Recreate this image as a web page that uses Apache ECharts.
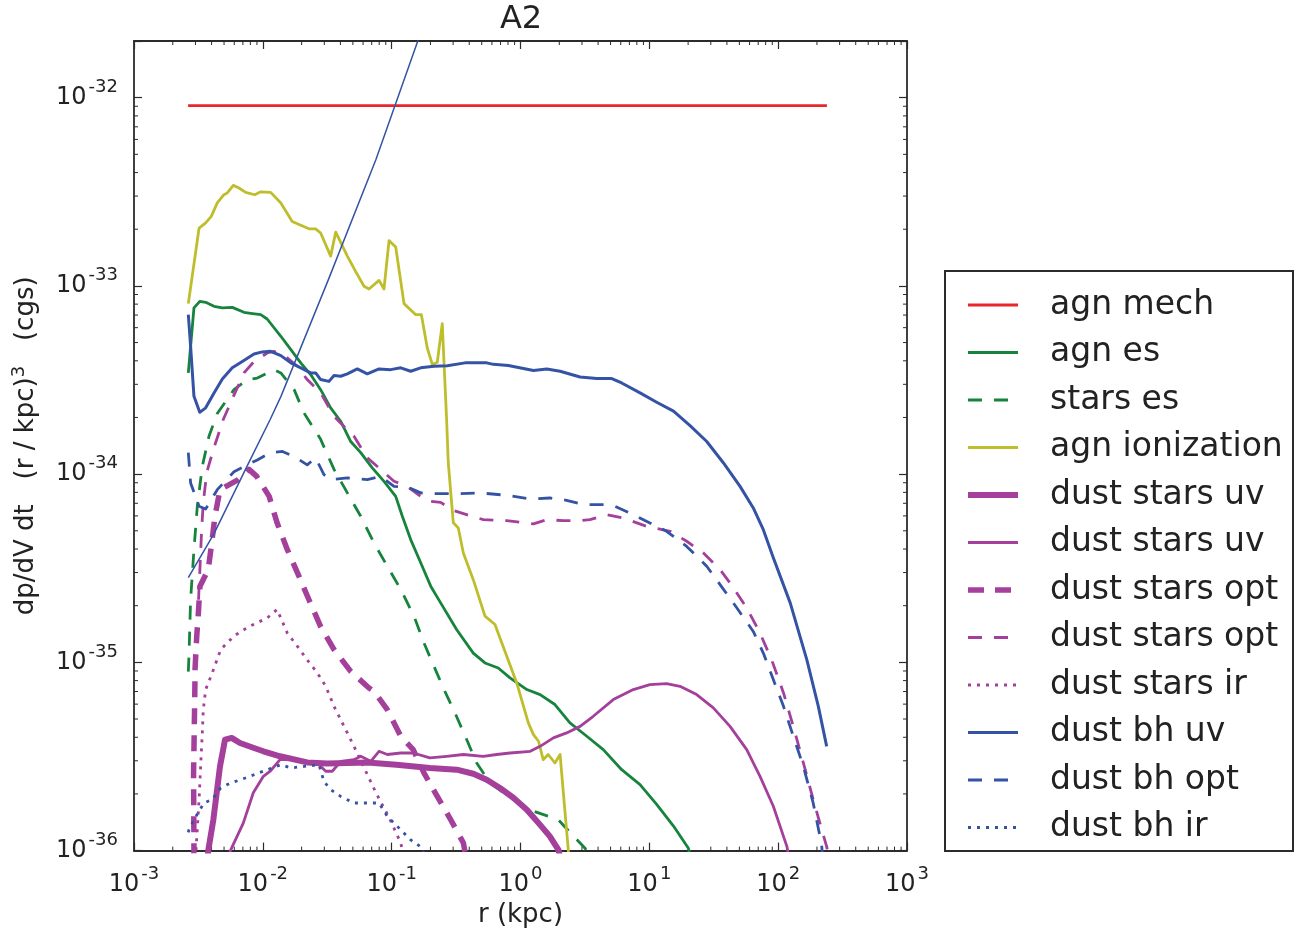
<!DOCTYPE html>
<html>
<head>
<meta charset="utf-8">
<script src="https://cdn.jsdelivr.net/npm/echarts@6/dist/echarts.min.js"></script>
<style>
html,body{margin:0;padding:0;background:#fff;}
#chart{width:1307px;height:933px;}
</style>
</head>
<body>
<div id="chart"></div>
<script>
// ---------- data: [r (kpc), dp/dV dt (r/kpc)^3 (cgs)] ----------
const agnMech = [[2.63e-3,9.08e-33],[239,9.08e-33]];
const agnEs = [[2.64e-3,3.45e-34],[2.92e-3,7.64e-34],[3.24e-3,8.28e-34],[3.60e-3,8.18e-34],[4.18e-3,7.79e-34],[4.85e-3,7.64e-34],[5.79e-3,7.69e-34],[7.14e-3,7.24e-34],[8.05e-3,7.15e-34],[9.63e-3,7.03e-34],[1.08e-2,6.67e-34],[1.38e-2,5.40e-34],[1.65e-2,4.59e-34],[1.97e-2,3.90e-34],[2.35e-2,3.38e-34],[2.81e-2,2.81e-34],[3.36e-2,2.25e-34],[4.02e-2,1.91e-34],[4.81e-2,1.49e-34],[5.75e-2,1.30e-34],[7.07e-2,1.08e-34],[8.72e-2,9.16e-35],[0.1075,7.62e-35],[0.121,5.97e-35],[0.1405,4.49e-35],[0.168,3.38e-35],[0.201,2.54e-35],[0.240,2.07e-35],[0.320,1.49e-35],[0.430,1.12e-35],[0.530,9.93e-36],[0.672,9.34e-36],[0.829,8.27e-36],[1.12,7.17e-36],[1.42,6.74e-36],[1.85,5.97e-36],[2.42,4.77e-36],[3.27,4.05e-36],[4.39,3.44e-36],[6.10,2.69e-36],[8.47,2.24e-36],[11.4,1.76e-36],[15.4,1.35e-36],[20.1,1.03e-36],[21,9e-37]];
const starsEs = [[2.64e-3,8.93e-36],[2.67e-3,1.08e-35],[2.75e-3,2.15e-35],[2.92e-3,3.97e-35],[3.10e-3,6.75e-35],[3.39e-3,1.10e-34],[3.82e-3,1.59e-34],[4.43e-3,2.10e-34],[5.97e-3,2.81e-34],[7.58e-3,3.18e-34],[9.06e-3,3.24e-34],[1.22e-2,3.59e-34],[1.38e-2,3.45e-34],[1.75e-2,2.81e-34],[2.09e-2,2.11e-34],[2.81e-2,1.53e-34],[3.57e-2,1.06e-34],[4.53e-2,7.95e-35],[5.75e-2,5.97e-35],[7.29e-2,4.31e-35],[9.25e-2,3.24e-35],[0.1176,2.44e-35],[0.149,1.76e-35],[0.178,1.27e-35],[0.213,9.53e-36],[0.255,7.17e-36],[0.310,5.39e-36],[0.382,3.89e-36],[0.457,2.92e-36],[0.580,2.29e-36],[0.829,1.91e-36],[1.26,1.62e-36],[1.96,1.46e-36],[2.65,1.17e-36],[3.17,1.03e-36],[3.5,9e-37]];
const agnIon = [[2.64e-3,8.05e-34],[3.20e-3,2.03e-33],[3.60e-3,2.16e-33],[3.98e-3,2.34e-33],[4.43e-3,2.76e-33],[4.93e-3,3.03e-33],[5.30e-3,3.12e-33],[5.90e-3,3.42e-33],[6.53e-3,3.31e-33],[7.36e-3,3.14e-33],[8.65e-3,3.05e-33],[9.63e-3,3.16e-33],[1.15e-2,3.14e-33],[1.38e-2,2.76e-33],[1.69e-2,2.20e-33],[2.28e-2,2.01e-33],[2.57e-2,2.01e-33],[2.81e-2,1.91e-33],[3.36e-2,1.44e-33],[3.68e-2,1.93e-33],[4.53e-2,1.44e-33],[5.26e-2,1.19e-33],[6.10e-2,9.95e-34],[6.67e-2,9.63e-34],[7.98e-2,1.07e-33],[8.72e-2,9.63e-34],[9.54e-2,1.74e-33],[0.1075,1.61e-33],[0.1247,8.05e-34],[0.1537,7.03e-34],[0.170,7.03e-34],[0.189,4.68e-34],[0.207,3.82e-34],[0.226,3.93e-34],[0.247,6.30e-34],[0.267,1.95e-34],[0.275,1.15e-34],[0.301,5.51e-35],[0.329,5.18e-35],[0.360,3.81e-35],[0.430,2.75e-35],[0.530,1.76e-35],[0.634,1.59e-35],[0.715,1.27e-35],[0.935,7.78e-36],[1.15,4.77e-36],[1.26,4.13e-36],[1.38,3.81e-36],[1.50,3.04e-36],[1.64,3.24e-36],[1.85,2.92e-36],[2.03,3.24e-36],[2.15,2.03e-36],[2.35,1.01e-36],[2.40,8e-37]];
const dustStarsUvThick = [[3.72e-3,9e-37],[3.77e-3,1.0e-36],[4.13e-3,1.46e-36],[4.65e-3,2.80e-36],[5.09e-3,3.89e-36],[5.73e-3,3.97e-36],[6.65e-3,3.73e-36],[8.54e-3,3.51e-36],[1.01e-2,3.37e-36],[1.36e-2,3.17e-36],[2.21e-2,2.94e-36],[3.17e-2,2.90e-36],[4.53e-2,2.92e-36],[6.47e-2,2.94e-36],[0.109,2.86e-36],[0.198,2.75e-36],[0.320,2.69e-36],[0.430,2.56e-36],[0.547,2.38e-36],[0.693,2.15e-36],[0.880,1.91e-36],[1.12,1.65e-36],[1.42,1.37e-36],[1.69,1.19e-36],[1.97,1.01e-36],[2.05,9e-37]];
const dustStarsUvThin = [[5.5e-3,9.5e-37],[5.6e-3,1.0e-36],[7.05e-3,1.40e-36],[8.43e-3,2.03e-36],[1.01e-2,2.48e-36],[1.14e-2,2.64e-36],[1.36e-2,3.04e-36],[1.75e-2,3.04e-36],[2.21e-2,2.92e-36],[2.73e-2,2.86e-36],[3.08e-2,2.64e-36],[3.46e-2,2.64e-36],[4.02e-2,2.98e-36],[5.10e-2,3.04e-36],[5.75e-2,3.17e-36],[6.88e-2,2.98e-36],[7.98e-2,3.37e-36],[9.25e-2,3.24e-36],[0.1176,3.30e-36],[0.147,3.30e-36],[0.198,3.11e-36],[0.267,3.17e-36],[0.360,3.24e-36],[0.514,3.17e-36],[0.654,3.24e-36],[0.829,3.30e-36],[1.19,3.37e-36],[1.42,3.58e-36],[1.80,3.97e-36],[2.28,4.22e-36],[2.90,4.57e-36],[3.67,5.17e-36],[5.25,6.34e-36],[7.51,7.17e-36],[10.1,7.62e-36],[13.6,7.71e-36],[17.3,7.46e-36],[23.3,6.74e-36],[31.4,5.73e-36],[42.3,4.57e-36],[57.0,3.44e-36],[72.3,2.48e-36],[91.7,1.72e-36],[117,1.05e-36],[120,9.5e-37]];
const dustStarsOptThick = [[2.9e-3,9e-37],[2.92e-3,1.0e-36],[2.90e-3,2.60e-36],[2.96e-3,6.34e-36],[2.98e-3,9.38e-36],[3.07e-3,1.38e-35],[3.16e-3,1.83e-35],[3.25e-3,2.54e-35],[3.77e-3,3.11e-35],[4.01e-3,4.31e-35],[4.25e-3,5.97e-35],[4.65e-3,8.27e-35],[6.45e-3,9.35e-35],[7.81e-3,1.06e-34],[8.96e-3,9.73e-35],[1.12e-2,7.62e-35],[1.29e-2,5.51e-35],[1.55e-2,3.97e-35],[1.91e-2,2.86e-35],[2.28e-2,2.15e-35],[2.81e-2,1.55e-35],[3.57e-2,1.17e-35],[4.81e-2,8.96e-36],[6.67e-2,7.31e-36],[7.29e-2,7.02e-36],[9.25e-2,5.61e-36],[0.1176,4.05e-36],[0.147,3.44e-36],[0.178,2.59e-36],[0.226,1.94e-36],[0.287,1.46e-36],[0.360,1.10e-36],[0.38,9e-37]];
const dustStarsOptThin = [[3.17e-3,2.15e-35],[3.28e-3,3.65e-35],[3.35e-3,5.07e-35],[3.45e-3,7.06e-35],[3.67e-3,1.02e-34],[4.13e-3,1.35e-34],[4.93e-3,1.95e-34],[5.90e-3,2.58e-34],[7.14e-3,3.45e-34],[8.54e-3,3.96e-34],[1.08e-2,4.40e-34],[1.22e-2,4.49e-34],[1.50e-2,4.22e-34],[1.85e-2,3.74e-34],[2.21e-2,3.18e-34],[2.81e-2,2.70e-34],[3.57e-2,2.03e-34],[4.27e-2,1.79e-34],[5.10e-2,1.59e-34],[6.47e-2,1.22e-34],[8.22e-2,1.06e-34],[0.1043,9.16e-35],[0.132,8.61e-35],[0.168,7.62e-35],[0.201,7.17e-35],[0.240,7.08e-35],[0.301,6.42e-35],[0.382,6.09e-35],[0.514,5.73e-35],[0.782,5.66e-35],[1.26,5.44e-35],[1.60,5.73e-35],[2.15,5.66e-35],[2.90,5.66e-35],[3.46,5.73e-35],[4.67,6.09e-35],[6.28,5.85e-35],[9.54,5.28e-35],[14.5,4.97e-35],[19.5,4.40e-35],[26.3,3.81e-35],[35.4,3.11e-35],[42.3,2.64e-35],[57.0,1.95e-35],[72.3,1.43e-35],[89.1,1.03e-35],[110,6.88e-36],[131,4.57e-36],[157,2.92e-36],[187,1.87e-36],[218,1.29e-36],[238,1.05e-36],[245,9.5e-37]];
const dustStarsIr = [[3.0e-3,9e-37],[3.20e-3,1.87e-36],[3.29e-3,2.80e-36],[3.39e-3,4.22e-36],[3.45e-3,5.61e-36],[3.60e-3,7.17e-36],[4.05e-3,8.79e-36],[4.71e-3,1.17e-35],[5.97e-3,1.38e-35],[7.81e-3,1.55e-35],[1.08e-2,1.72e-35],[1.29e-2,1.91e-35],[1.55e-2,1.43e-35],[1.85e-2,1.22e-35],[2.21e-2,1.03e-35],[2.65e-2,8.79e-36],[3.08e-2,7.46e-36],[3.57e-2,5.84e-36],[4.27e-2,4.57e-36],[5.10e-2,3.58e-36],[6.10e-2,2.76e-36],[7.55e-2,2.03e-36],[9.54e-2,1.50e-36],[0.1176,1.10e-36],[0.125,9e-37]];
const dustBhUv = [[2.64e-3,7.03e-34],[2.75e-3,4.78e-34],[2.92e-3,2.59e-34],[3.24e-3,2.13e-34],[3.60e-3,2.25e-34],[4.18e-3,2.70e-34],[4.85e-3,3.20e-34],[5.79e-3,3.67e-34],[6.93e-3,3.97e-34],[8.54e-3,4.35e-34],[9.91e-3,4.46e-34],[1.15e-2,4.49e-34],[1.38e-2,4.26e-34],[1.65e-2,3.90e-34],[1.97e-2,3.67e-34],[2.35e-2,3.45e-34],[2.57e-2,3.45e-34],[2.81e-2,3.18e-34],[3.26e-2,3.11e-34],[3.57e-2,3.34e-34],[4.02e-2,3.31e-34],[4.53e-2,3.41e-34],[5.41e-2,3.62e-34],[6.47e-2,3.41e-34],[7.98e-2,3.62e-34],[9.83e-2,3.59e-34],[0.1176,3.67e-34],[0.1405,3.52e-34],[0.168,3.67e-34],[0.213,3.74e-34],[0.270,3.77e-34],[0.371,3.90e-34],[0.547,3.90e-34],[0.615,3.83e-34],[0.804,3.78e-34],[1.26,3.55e-34],[1.60,3.62e-34],[2.03,3.52e-34],[2.90,3.28e-34],[3.91,3.22e-34],[5.11,3.22e-34],[6.10,3.05e-34],[8.47,2.70e-34],[11.4,2.41e-34],[15.4,2.16e-34],[20.7,1.81e-34],[27.9,1.49e-34],[37.5,1.15e-34],[50.6,8.61e-35],[64.1,6.61e-35],[76.7,5.07e-35],[91.7,3.60e-35],[124,2.07e-35],[167,1.03e-35],[205,5.84e-36],[238,3.58e-36]];
const dustBhOpt = [[2.64e-3,1.30e-34],[2.75e-3,8.98e-35],[3.20e-3,6.75e-35],[3.60e-3,6.53e-35],[4.43e-3,8.27e-35],[5.97e-3,1.03e-34],[7.58e-3,1.12e-34],[9.06e-3,1.19e-34],[1.15e-2,1.30e-34],[1.42e-2,1.32e-34],[1.75e-2,1.24e-34],[2.21e-2,1.12e-34],[2.57e-2,1.22e-34],[2.98e-2,9.94e-35],[3.36e-2,9.35e-35],[4.53e-2,9.55e-35],[6.47e-2,9.35e-35],[8.22e-2,9.73e-35],[0.1043,8.61e-35],[0.132,8.55e-35],[0.168,7.95e-35],[0.213,7.88e-35],[0.339,7.88e-35],[0.485,7.95e-35],[0.782,7.72e-35],[1.19,7.38e-35],[1.69,7.47e-35],[2.28,7.26e-35],[3.07,6.89e-35],[4.67,6.89e-35],[5.42,6.75e-35],[7.51,6.09e-35],[10.7,5.39e-35],[13.6,4.97e-35],[19.5,4.13e-35],[27.9,3.24e-35],[35.4,2.59e-35],[47.7,1.95e-35],[64.1,1.46e-35],[76.7,1.12e-35],[91.7,8.10e-36],[110,5.84e-36],[131,4.05e-36],[157,2.80e-36],[187,1.79e-36],[211,1.19e-36],[218,1.05e-36],[222,9e-37]];
const dustBhIr = [[2.64e-3,1.25e-36],[2.67e-3,1.29e-36],[2.92e-3,1.46e-36],[3.20e-3,1.62e-36],[3.49e-3,1.79e-36],[4.05e-3,1.87e-36],[4.71e-3,2.15e-36],[5.63e-3,2.29e-36],[6.73e-3,2.38e-36],[8.54e-3,2.53e-36],[1.08e-2,2.69e-36],[1.38e-2,2.86e-36],[1.65e-2,2.75e-36],[2.09e-2,2.80e-36],[2.73e-2,2.86e-36],[2.98e-2,2.33e-36],[3.36e-2,2.11e-36],[4.02e-2,1.94e-36],[5.10e-2,1.79e-36],[6.47e-2,1.79e-36],[7.98e-2,1.79e-36],[9.25e-2,1.52e-36],[0.1176,1.29e-36],[0.1405,1.14e-36],[0.167,1.05e-36],[0.18,9.5e-37]];
const refLine = [[2.64e-3,2.82e-35],[4.18e-3,4.83e-35],[7.53e-3,1.10e-34],[1.14e-2,1.95e-34],[1.38e-2,2.58e-34],[3.21e-2,1.07e-33],[7.55e-2,4.69e-33],[0.160,2.01e-32],[0.17,2.3e-32]];

// axes ranges and tick definitions
const xRange = [1e-3, 1e3];
const yRange = [1e-36, 2e-32];
const minorMantissas = [2,3,4,5,6,7,8,9];
const xDecades = [-3,-2,-1,0,1,2];
const yDecades = [-36,-35,-34,-33,-32];
const legendNames = ['agn mech','agn es','stars es','agn ionization','dust stars uv','dust stars uv ','dust stars opt','dust stars opt ','dust stars ir','dust bh uv','dust bh opt','dust bh ir'];

// ---------- styling ----------
const FONT = 'DejaVu Sans';
const TXT = '#222';
const AX = '#2b2b2b';
const C = {red:'#e8262b', green:'#17843d', yellow:'#bebe2d', mag:'#a4409c', blue:'#3453a5'};
const DASH = [14, 12], DASH_THICK = [16, 11], DOT = [3, 6];
const LW = 2.8;

const yMinL = Math.log10(yRange[0]);
const yMaxL = Math.log10(yRange[1]);

function toPlot(arr){ return arr.map(p => [p[0], Math.log10(p[1])]); }
function line(name, arr, color, width, type){
  return {
    type:'line', name:name, data: toPlot(arr), symbol:'none', showSymbol:false,
    lineStyle:{color:color, width:width, type:type, cap:'butt', join:'round'},
    itemStyle:{color:color}, emphasis:{disabled:true}, animation:false,
    xAxisIndex:0, yAxisIndex:0
  };
}
function expLabel(e){ return '{b|10}{s|' + e + '}'; }

const minorData = [];
xDecades.forEach(k => minorMantissas.forEach(m => minorData.push([m*Math.pow(10,k), yMinL, 0])));
yDecades.forEach(k => minorMantissas.forEach(m => {
  const lv = Math.log10(m*Math.pow(10,k));
  if (lv < yMaxL) minorData.push([xRange[0], lv, 1]);
}));

const supRich = {
  b:{fontFamily:FONT, fontSize:24, color:TXT},
  s:{fontFamily:FONT, fontSize:18, color:TXT, padding:[0,0,21,2]}
};

const chart = echarts.init(document.getElementById('chart'), null, {renderer:'canvas'});
chart.setOption({
  animation:false,
  backgroundColor:'#fff',
  title:{text:'A2', left:521, top:4, textAlign:'center', padding:0,
    textStyle:{fontFamily:FONT, fontSize:32, fontWeight:'normal', color:TXT}},
  grid:{left:134, top:41, width:773, height:810, containLabel:false},
  legend:{
    data: legendNames, orient:'vertical', left:965, top:287, padding:0,
    itemWidth:50, itemHeight:36, itemGap:11.5, selectedMode:false,
    itemStyle:{opacity:0},
    lineStyle:{width:'inherit', type:'inherit', color:'inherit'},
    textStyle:{fontFamily:FONT, fontSize:33, lineHeight:36, color:TXT, padding:[0,0,0,27]}
  },
  graphic:[{type:'rect', z:0, silent:true,
    shape:{x:945, y:271, width:348, height:580},
    style:{fill:'#fff', stroke:AX, lineWidth:2}}],
  xAxis:[
    {type:'log', logBase:10, min:xRange[0], max:xRange[1], position:'bottom',
     name:'r (kpc)', nameLocation:'middle', nameGap:50,
     nameTextStyle:{fontFamily:FONT, fontSize:26, color:TXT},
     axisLine:{show:true, onZero:false, lineStyle:{color:AX, width:1.8}},
     axisTick:{show:true, inside:true, length:8, lineStyle:{color:AX, width:1.2}},
     axisLabel:{show:true, margin:15, formatter:v => expLabel(Math.round(Math.log10(v))), rich:supRich},
     splitLine:{show:false}, minorTick:{show:false}},
    {type:'log', logBase:10, min:xRange[0], max:xRange[1], position:'top',
     axisLine:{show:true, onZero:false, lineStyle:{color:AX, width:1.8}},
     axisTick:{show:true, inside:true, length:8, lineStyle:{color:AX, width:1.2}},
     axisLabel:{show:false}, splitLine:{show:false}}
  ],
  yAxis:[
    {type:'value', min:yMinL, max:yMaxL, interval:1, position:'left',
     name:'{n|dp/dV dt   (r / kpc)}{u|3}{n|   (cgs)}', nameLocation:'middle', nameRotate:90, nameGap:92,
     nameTextStyle:{rich:{
       n:{fontFamily:FONT, fontSize:26, color:TXT},
       u:{fontFamily:FONT, fontSize:18, color:TXT, padding:[0,0,14,0]}}},
     axisLine:{show:true, onZero:false, lineStyle:{color:AX, width:1.8}},
     axisTick:{show:true, inside:true, length:8, lineStyle:{color:AX, width:1.2}},
     axisLabel:{show:true, margin:16, formatter:v => (Math.abs(v - Math.round(v)) > 1e-6 ? '' : expLabel(Math.round(v))), rich:supRich},
     splitLine:{show:false}},
    {type:'value', min:yMinL, max:yMaxL, interval:1, position:'right',
     axisLine:{show:true, onZero:false, lineStyle:{color:AX, width:1.8}},
     axisTick:{show:true, inside:true, length:8, lineStyle:{color:AX, width:1.2}},
     axisLabel:{show:false}, splitLine:{show:false}}
  ],
  series:[
    line('agn mech', agnMech, C.red, LW, 'solid'),
    line('agn es', agnEs, C.green, LW, 'solid'),
    line('stars es', starsEs, C.green, LW, DASH),
    line('agn ionization', agnIon, C.yellow, LW, 'solid'),
    line('dust stars uv', dustStarsUvThick, C.mag, 6, 'solid'),
    line('dust stars uv ', dustStarsUvThin, C.mag, LW, 'solid'),
    line('dust stars opt', dustStarsOptThick, C.mag, 5.5, DASH_THICK),
    line('dust stars opt ', dustStarsOptThin, C.mag, LW, DASH),
    line('dust stars ir', dustStarsIr, C.mag, LW, DOT),
    line('dust bh uv', dustBhUv, C.blue, 3, 'solid'),
    line('dust bh opt', dustBhOpt, C.blue, LW, DASH),
    line('dust bh ir', dustBhIr, C.blue, LW, DOT),
    line('', refLine, C.blue, 1.5, 'solid'),
    {type:'custom', silent:true, animation:false, xAxisIndex:0, yAxisIndex:0, clip:false,
     data:minorData,
     renderItem:function(params, api){
       const kind = api.value(2);
       const st = {stroke:AX, lineWidth:1};
       if (kind === 0) {
         const x = api.value(0);
         const pb = api.coord([x, yMinL]);
         const pt = api.coord([x, yMaxL]);
         return {type:'group', children:[
           {type:'line', shape:{x1:pb[0], y1:pb[1], x2:pb[0], y2:pb[1]-4}, style:st},
           {type:'line', shape:{x1:pt[0], y1:pt[1], x2:pt[0], y2:pt[1]+4}, style:st}
         ]};
       } else {
         const y = api.value(1);
         const pl = api.coord([xRange[0], y]);
         const pr = api.coord([xRange[1], y]);
         return {type:'group', children:[
           {type:'line', shape:{x1:pl[0], y1:pl[1], x2:pl[0]+4, y2:pl[1]}, style:st},
           {type:'line', shape:{x1:pr[0], y1:pr[1], x2:pr[0]-4, y2:pr[1]}, style:st}
         ]};
       }
     }}
  ]
});
</script>
</body>
</html>
